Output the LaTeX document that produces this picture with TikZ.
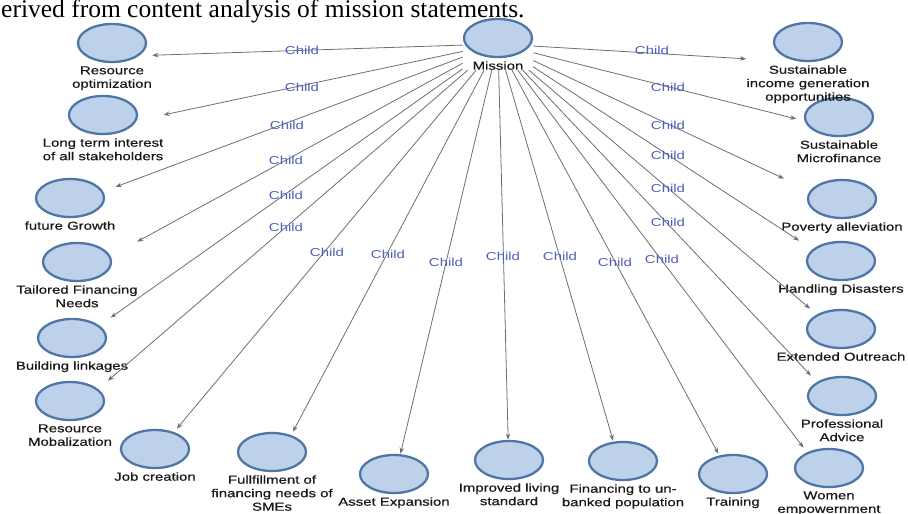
\documentclass[tikz,border=0pt]{standalone}
\usepackage{fontspec}
\setmainfont{Liberation Sans}[FakeStretch=1.3]
\newfontfamily\lblfont{Liberation Sans}[FakeStretch=1.3, FakeBold=0.6]
\newfontfamily\capfont{Liberation Serif}
\usetikzlibrary{arrows.meta,fit,shapes.geometric}
\definecolor{ellfill}{RGB}{190,209,234}
\definecolor{elldraw}{RGB}{80,118,166}
\definecolor{edgecol}{RGB}{105,112,115}
\definecolor{childcol}{RGB}{84,96,184}
\tikzset{
  ell/.style={ellipse, draw=elldraw, fill=ellfill, line width=2.3pt,
    minimum width=68pt, minimum height=38pt, inner sep=0pt},
  lbl/.style={font=\lblfont\fontsize{11.5}{13.5}\selectfont, align=center,
    inner sep=0pt, text=black!90},
  fitbox/.style={inner sep=0pt, draw=none},
  edge/.style={draw=edgecol, line width=0.8pt,
    -{Stealth[length=6pt,width=4.5pt]}},
  childlbl/.style={font=\fontsize{11.5}{13}\selectfont, text=childcol,
    inner sep=0pt},
}
\newcommand\concept[4]{%
  \node[ell] (#1-e) at (#2,#3) {};
  \node[lbl, anchor=north] (#1-l) at ([yshift=-3pt]#1-e.south) {#4};
  \node[fitbox, fit=(#1-e)(#1-l)] (#1) {};
}
\begin{document}
\begin{tikzpicture}[x=1pt,y=-1pt]
\useasboundingbox (0,0) rectangle (908,514);
\clip (0,0) rectangle (908,514);
\fill[white] (0,0) rectangle (908,514);
\node[anchor=base west, inner sep=0pt,
  font=\capfont\fontsize{25.5}{28}\selectfont] (caption) at (1,17)
  {erived from content analysis of mission statements.};

% concepts
\concept{mission}{498}{38}{Mission}
\concept{ro}{112}{43}{Resource\\optimization}
\concept{lt}{103}{115}{Long term interest\\of all stakeholders}
\concept{fg}{70}{198}{future Growth}
\concept{tf}{77}{262}{Tailored Financing\\Needs}
\concept{bl}{72}{338}{Building linkages}
\concept{rm}{70}{401}{Resource\\Mobalization}
\concept{jc}{155}{449}{Job creation}
\concept{ff}{272}{452}{Fullfillment of\\financing needs of\\SMEs}
\concept{ae}{394}{474}{Asset Expansion}
\concept{il}{509}{460}{Improved living\\standard}
\concept{fu}{623}{461}{Financing to un-\\banked population}
\concept{tr}{733}{474}{Training}
\concept{we}{829}{468}{Women\\empowernment}
\concept{pa}{842}{396}{Professional\\Advice}
\concept{eo}{841}{329}{Extended Outreach}
\concept{hd}{841}{261}{Handling Disasters}
\concept{pv}{842}{199}{Poverty alleviation}
\concept{sm}{839}{117}{Sustainable\\Microfinance}
\concept{si}{808}{42}{Sustainable\\income generation\\opportunities}

% connectors
\foreach \t in {ro,lt,fg,tf,bl,rm,jc,ff,ae,il,fu,tr,we,pa,eo,hd,pv,sm,si}
  \draw[edge] (mission) -- (\t);

% edge labels
\node[childlbl] (c1) at (302,50) {Child};
\node[childlbl] (c2) at (302,87) {Child};
\node[childlbl] (c3) at (287,125) {Child};
\node[childlbl] (c4) at (286,160) {Child};
\node[childlbl] (c5) at (286,195) {Child};
\node[childlbl] (c6) at (286,227) {Child};
\node[childlbl] (c7) at (327,252) {Child};
\node[childlbl] (c8) at (388,254) {Child};
\node[childlbl] (c9) at (446,262) {Child};
\node[childlbl] (c10) at (503,256) {Child};
\node[childlbl] (c11) at (560,256) {Child};
\node[childlbl] (c12) at (615,262) {Child};
\node[childlbl] (c13) at (662,259) {Child};
\node[childlbl] (c14) at (652,50) {Child};
\node[childlbl] (c15) at (668,87) {Child};
\node[childlbl] (c16) at (668,125) {Child};
\node[childlbl] (c17) at (668,155) {Child};
\node[childlbl] (c18) at (668,188) {Child};
\node[childlbl] (c19) at (668,222) {Child};
\end{tikzpicture}
\end{document}
